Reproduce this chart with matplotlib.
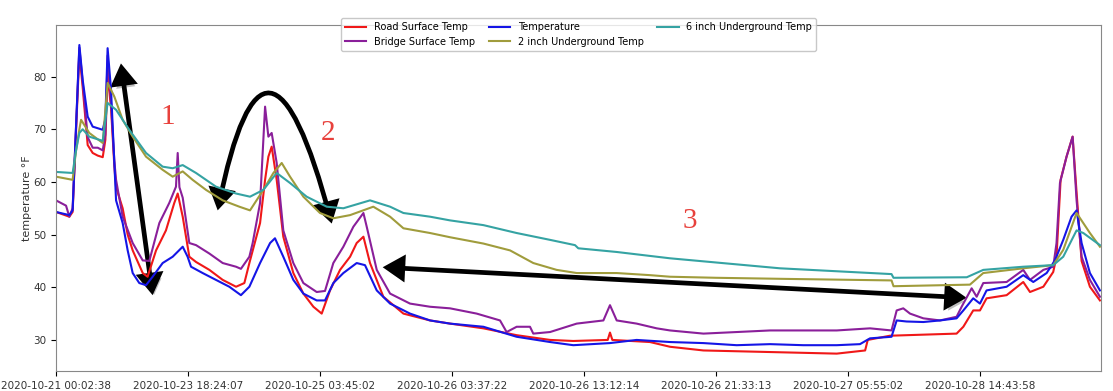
import matplotlib
matplotlib.use("Agg")
import matplotlib.pyplot as plt
from matplotlib.patches import FancyArrowPatch
from matplotlib.path import Path
import matplotlib.patheffects as pe

# ---------------- data (sample index, °F) ----------------
tick_positions = [0, 1000, 2000, 3000, 4000, 5000, 6000, 7000]
tick_labels = ["2020-10-21 00:02:38", "2020-10-23 18:24:07", "2020-10-25 03:45:02",
               "2020-10-26 03:37:22", "2020-10-26 13:12:14", "2020-10-26 21:33:13",
               "2020-10-27 05:55:02", "2020-10-28 14:43:58"]

road_x = [0, 101, 126, 177, 202, 240, 278, 316, 354, 374, 391, 417, 442, 455, 505, 543,
          581, 657, 694, 758, 833, 896, 922, 960, 1010, 1061, 1162, 1263, 1364, 1427, 1465,
          1546, 1584, 1609, 1634, 1672, 1722, 1798, 1874, 1950, 2013, 2076, 2152, 2228,
          2278, 2329, 2379, 2480, 2632, 2834, 2985, 3238, 3490, 3743, 3919, 4180, 4197,
          4215, 4500, 4652, 4905, 5410, 5915, 6130, 6150, 6318, 6823, 6874, 6949, 7000,
          7050, 7202, 7328, 7379, 7480, 7555, 7580, 7611, 7656, 7702, 7732, 7770, 7833, 7909]
road_y = [54.3, 53.4, 54.3, 84.5, 78.0, 67.0, 65.5, 65.0, 64.7, 68.0, 80.5, 74.0, 63.0, 59.0,
          55.0, 50.0, 47.0, 42.7, 42.0, 47.0, 50.8, 56.0, 57.8, 53.4, 45.8, 44.8, 43.3, 41.4,
          40.1, 40.8, 44.6, 52.2, 60.4, 64.8, 66.7, 60.4, 49.6, 42.7, 38.8, 36.3, 35.0, 39.4,
          43.3, 45.8, 48.4, 49.6, 44.6, 38.2, 35.0, 33.7, 33.1, 32.2, 30.9, 30.0, 29.8, 30.0,
          31.4, 30.0, 29.6, 28.7, 28.0, 27.7, 27.4, 28.0, 30.0, 30.8, 31.2, 32.5, 35.6, 35.6,
          37.9, 38.5, 41.0, 39.1, 40.1, 42.9, 45.8, 60.4, 64.8, 68.6, 58.0, 45.0, 40.1, 37.5]

bridge_x = [0, 76, 101, 126, 177, 202, 240, 278, 316, 354, 374, 391, 417, 442, 455, 505,
            581, 657, 707, 783, 858, 909, 922, 935, 960, 1010, 1061, 1162, 1263, 1364, 1401,
            1465, 1490, 1546, 1584, 1609, 1634, 1672, 1722, 1798, 1874, 1975, 2038, 2101,
            2177, 2253, 2329, 2354, 2430, 2531, 2682, 2834, 2985, 3187, 3364, 3414, 3490,
            3591, 3616, 3743, 3945, 4147, 4197, 4248, 4399, 4551, 4652, 4905, 5410, 5915,
            6167, 6330, 6369, 6419, 6470, 6571, 6697, 6823, 6861, 6937, 6975, 7025, 7202,
            7328, 7379, 7480, 7555, 7580, 7606, 7656, 7702, 7732, 7770, 7833, 7909]
bridge_y = [56.5, 55.5, 53.4, 55.0, 85.5, 79.0, 68.5, 66.5, 66.5, 66.0, 69.0, 84.0, 75.0,
            64.0, 60.4, 53.4, 48.4, 45.1, 45.0, 52.2, 56.0, 59.1, 65.5, 59.0, 57.0, 48.4,
            48.0, 46.4, 44.6, 43.9, 43.5, 45.8, 48.4, 56.0, 74.3, 68.6, 69.3, 63.6, 50.8,
            44.6, 40.8, 39.1, 39.3, 44.6, 47.7, 51.5, 54.1, 51.5, 43.3, 38.8, 36.9, 36.3,
            36.0, 35.0, 33.7, 31.5, 32.5, 32.5, 31.2, 31.5, 33.1, 33.7, 36.6, 33.7, 33.1,
            32.2, 31.8, 31.2, 31.8, 31.8, 32.2, 31.8, 35.6, 36.0, 35.0, 34.1, 33.7, 34.4,
            36.3, 39.8, 38.2, 40.8, 41.0, 43.3, 41.4, 43.3, 43.9, 48.4, 59.8, 64.8, 68.6,
            56.5, 45.8, 41.4, 38.2]

air_x = [0, 101, 126, 177, 202, 240, 278, 316, 354, 374, 391, 417, 442, 455, 505, 543,
         581, 631, 682, 732, 808, 884, 960, 997, 1023, 1111, 1212, 1313, 1401, 1465, 1546,
         1622, 1659, 1722, 1798, 1874, 1975, 2038, 2101, 2177, 2278, 2341, 2430, 2531,
         2682, 2834, 2985, 3238, 3490, 3743, 3919, 4197, 4399, 4652, 4905, 5157, 5410,
         5662, 5915, 6091, 6167, 6330, 6369, 6444, 6571, 6697, 6823, 6874, 6949, 7000,
         7050, 7202, 7328, 7404, 7505, 7568, 7631, 7694, 7732, 7770, 7833, 7909]
air_y = [54.3, 53.7, 54.6, 86.0, 79.4, 72.4, 70.5, 70.2, 69.9, 72.0, 85.4, 77.5, 63.6,
         56.5, 52.2, 47.0, 42.7, 40.8, 40.4, 42.0, 44.6, 45.8, 47.7, 45.8, 43.9, 42.7,
         41.4, 40.1, 38.5, 40.1, 44.6, 48.4, 49.3, 45.8, 41.4, 38.8, 37.5, 37.5, 40.8,
         42.7, 44.6, 44.2, 39.4, 36.9, 35.0, 33.7, 33.1, 32.5, 30.6, 29.6, 29.0, 29.4,
         30.0, 29.6, 29.4, 29.0, 29.2, 29.0, 29.0, 29.2, 30.3, 30.6, 33.7, 33.5, 33.4,
         33.7, 34.1, 35.6, 37.9, 36.9, 39.4, 40.1, 42.3, 41.0, 42.7, 45.1, 49.0, 53.4,
         54.6, 48.4, 42.7, 39.4]

ug2_x = [0, 126, 152, 177, 190, 252, 354, 391, 442, 505, 581, 682, 808, 884, 960, 1035,
         1136, 1263, 1389, 1470, 1571, 1647, 1710, 1773, 1874, 2000, 2101, 2228, 2404,
         2531, 2632, 2834, 2985, 3238, 3440, 3616, 3793, 3945, 4248, 4500, 4652, 5000,
         5500, 6330, 6345, 6924, 7025, 7328, 7555, 7631, 7732, 7833, 7909]
ug2_y = [61.0, 60.4, 66.0, 70.0, 71.8, 69.3, 67.4, 78.8, 76.2, 71.8, 68.6, 64.8, 62.3,
         61.0, 62.0, 60.4, 58.5, 56.5, 55.3, 54.6, 58.5, 61.7, 63.6, 61.0, 57.2, 54.1,
         53.1, 53.7, 55.3, 53.4, 51.2, 50.3, 49.5, 48.3, 47.0, 44.6, 43.3, 42.7, 42.7,
         42.3, 42.0, 41.8, 41.6, 41.3, 40.2, 40.5, 42.7, 43.6, 44.2, 47.1, 54.1, 50.3, 47.7]

ug6_x = [0, 126, 152, 177, 202, 252, 354, 391, 455, 555, 682, 808, 884, 960, 1061, 1212,
         1364, 1470, 1571, 1672, 1773, 1899, 2051, 2177, 2379, 2531, 2632, 2834, 2985,
         3238, 3490, 3743, 3932, 3957, 4248, 4652, 5485, 6330, 6345, 6900, 7025, 7328,
         7555, 7631, 7732, 7783, 7909]
ug6_y = [61.9, 61.7, 66.0, 69.3, 70.0, 68.6, 67.8, 75.0, 73.7, 69.9, 65.5, 62.9, 62.6,
         63.2, 61.7, 59.1, 57.8, 57.2, 58.5, 61.7, 59.8, 57.2, 55.3, 55.0, 56.5, 55.3,
         54.1, 53.4, 52.7, 51.8, 50.3, 49.0, 48.0, 47.4, 46.7, 45.5, 43.6, 42.5, 41.8,
         41.9, 43.3, 43.9, 44.2, 45.8, 50.8, 50.3, 48.0]

# ---------------- figure ----------------
fig = plt.figure(figsize=(11.13, 3.91), dpi=100)
ax = fig.add_axes([56 / 1113, 20 / 391, (1101 - 56) / 1113, (371 - 25) / 391])

ax.plot(road_x, road_y, color="#f01818", lw=1.5, label="Road Surface Temp")
ax.plot(bridge_x, bridge_y, color="#8a1f9a", lw=1.5, label="Bridge Surface Temp")
ax.plot(air_x, air_y, color="#1515e6", lw=1.5, label="Temperature")
ax.plot(ug2_x, ug2_y, color="#a09c3c", lw=1.5, label="2 inch Underground Temp")
ax.plot(ug6_x, ug6_y, color="#35a3a3", lw=1.5, label="6 inch Underground Temp")

ax.set_xlim(0, 7917)
ax.set_ylim(24.1, 89.8)
ax.set_xticks(tick_positions)
ax.set_xticklabels(tick_labels, fontsize=7.5, color="#333333")
ax.set_yticks([30, 40, 50, 60, 70, 80])
ax.tick_params(axis="y", labelsize=7.5, labelcolor="#333333")
ax.set_ylabel("temperature °F", fontsize=8, color="#333333", labelpad=1)
for s in ax.spines.values():
    s.set_color("#888888")

leg = ax.legend(loc="upper center", bbox_to_anchor=(0.5, 1.02), ncol=3,
                fontsize=7, borderaxespad=0, frameon=True, columnspacing=1.4,
                handlelength=2.2)
leg.get_frame().set_edgecolor("#bbbbbb")

# ---------------- annotations ----------------
shadow = [pe.SimplePatchShadow(offset=(1.5, -3), alpha=0.25), pe.Normal()]
style = "<|-|>,head_length=4.5,head_width=2.8"
kw = dict(arrowstyle=style, color="black", lw=3.4, mutation_scale=2.5,
          joinstyle="miter", capstyle="butt", clip_on=False)
a1 = FancyArrowPatch((492, 82.5), (732, 38.5), shrinkA=0, shrinkB=0, **kw)
arc_path = Path([(1225, 54.6), (1587, 99.6), (2089, 52.1)],
                [Path.MOVETO, Path.CURVE3, Path.CURVE3])
a2 = FancyArrowPatch(path=arc_path, **kw)
a3 = FancyArrowPatch((2475, 43.8), (6899, 38.0), shrinkA=0, shrinkB=0, **kw)
for a in (a1, a3):
    a.set_path_effects(shadow)
for a in (a1, a2, a3):
    ax.add_patch(a)

for txt, xx, yy in (("1", 845, 72.3), ("2", 2060, 69.3), ("3", 4803, 52.6)):
    ax.text(xx, yy, txt, color="#e8413c", fontsize=21, family="Liberation Serif",
            ha="center", va="center")

fig.savefig("out.png", dpi=100)
